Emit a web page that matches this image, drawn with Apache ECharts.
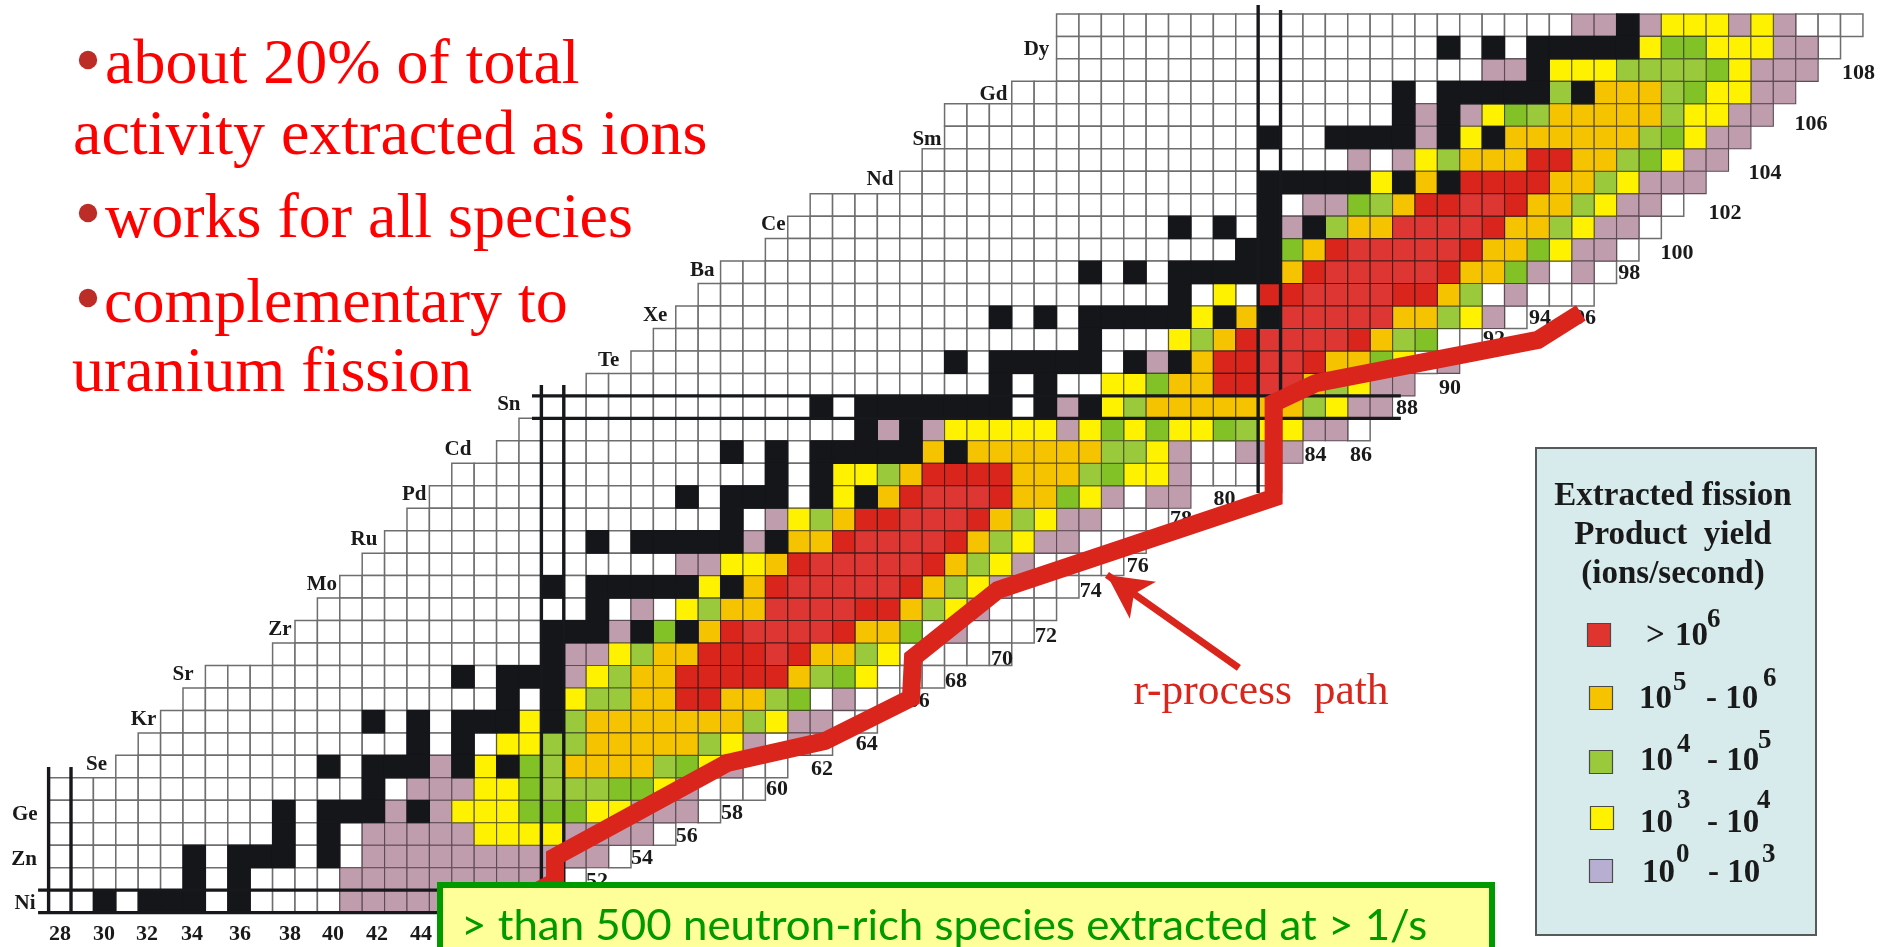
<!DOCTYPE html>
<html><head><meta charset="utf-8">
<style>html,body{margin:0;padding:0;background:#fff}#c{width:1886px;height:947px}</style>
<script src="https://cdn.jsdelivr.net/npm/echarts@6/dist/echarts.min.js"></script>
</head><body><div id="c"></div>
<script>
// ---- data: proton number, first neutron number, and runs "<code><last N of run>" ----
const rowZ = [67,66,65,64,63,62,61,60,59,58,57,56,55,54,53,52,51,50,49,48,47,46,45,44,43,42,41,40,39,38,37,36,35,34,33,32,31,30,29,28];
const rowStartN = [73,73,73,71,68,68,67,66,62,61,60,58,57,56,55,54,52,50,49,48,46,45,44,43,42,41,40,39,38,35,34,33,32,31,28,28,28,28,28,28];
const rowRuns = [
 "w95 p97 k98 p99 y102 p103 y104 p105 w108",
 "w89 k90 w91 k92 w93 k98 y99 G101 y104 p106 w107",
 "w91 p93 k94 y97 g101 G102 y103 p106",
 "w87 k88 w89 k94 g95 k96 o99 g100 G101 y103 p105",
 "w87 k88 p89 k90 p91 y92 G93 g94 o99 g100 y102 p104",
 "w81 k82 w84 k88 p89 k90 y91 k92 o98 g99 G100 y101 p103",
 "w85 p86 w87 p88 y89 g90 o93 r95 o97 g98 G99 y100 p102",
 "w81 k86 y87 k88 o89 k90 r94 o96 g97 y98 p101",
 "w81 k82 w83 p85 G86 g87 o88 r90 R92 r93 o95 g96 y97 p99 w100",
 "w77 k78 w79 k80 w81 k82 p83 k84 g85 o87 R91 r92 o94 g95 y96 p98 w99",
 "w80 k82 G83 o84 r85 R90 r91 o93 G94 y95 p97 w98",
 "w73 k74 w75 k76 w77 k82 o83 r84 R89 r90 o92 G93 p94 w95 p96 w97",
 "w77 k78 w79 y80 w81 r83 R87 r89 o90 g91 w92 p93 w96",
 "w69 k70 w71 k72 w73 k78 y79 k80 o81 k82 R87 o89 g90 y91 p92 w93",
 "w73 k74 w77 y78 g79 o80 r81 R85 r86 o87 g88 G89 w91",
 "w67 k68 w69 k74 w75 k76 p77 k78 o79 r81 R83 r84 o86 G87 y88 w89 p90",
 "w69 k70 w71 k72 w74 y76 G77 o79 r81 R83 o84 g85 y86 p88",
 "w61 k62 w63 k70 w71 k72 p73 k74 y75 g76 o83 g84 y85 p87",
 "w63 k64 p65 k66 p67 y72 p73 y74 G75 y76 G77 y79 G80 g81 y83 p85 w86",
 "w57 k58 w59 k60 w61 k66 o67 k68 o74 g76 y77 p78 w80 p83",
 "w59 k60 w61 k62 y64 g65 o66 r70 o73 g74 G75 y77 p78 w82",
 "w55 k56 w57 k60 w61 k62 y63 k64 o65 r66 R69 r70 o72 G73 y74 p75 w76 p78",
 "w57 k58 w59 p60 y61 g62 o63 r65 R68 r69 o70 g71 y72 p74 w77",
 "w51 k52 w53 k58 p59 k60 o62 r63 R67 r68 o69 g70 y71 p73 w76",
 "w55 p57 y59 o60 r61 R66 r67 o68 g69 y70 p71 w75",
 "w49 k50 w51 k56 y57 k58 o59 r60 R65 r66 o67 g68 y69 p70 w73",
 "w51 k52 w53 p54 w55 y56 g57 o59 R63 r65 o66 g67 y68 p69 w72",
 "w49 k52 p53 k54 G55 k56 o57 r58 R62 r63 o65 G66 w67 p68 w71",
 "w49 k50 p52 y53 g54 o56 r59 R60 r61 o63 g64 y65 w70",
 "w45 k46 w47 k50 p51 y52 g53 o55 r60 o61 g62 G63 y64 w67",
 "w47 k48 w49 k50 y51 g53 o55 r57 o59 g60 G61 w62 p63 w65",
 "w41 k42 w43 k44 w45 k48 y49 k50 g51 o58 g59 y60 p62 w64",
 "w43 k44 w45 k46 w47 y49 g51 o56 g57 y58 p59 w60 p61 w62",
 "w39 k40 w41 k44 p45 k46 y47 k48 G49 g50 o54 g55 G56 y57 p58 w60",
 "w41 k42 w43 p46 y48 G49 g52 G54 y55 p56 w59",
 "w37 k38 w39 k42 p43 k44 p45 y48 G51 y53 p56 w57",
 "w37 k38 w39 k40 w41 p46 y50 p54 w55",
 "w33 k34 w35 k38 w39 k40 w41 p52 w53",
 "w33 k34 w35 k36 w40 p50 w51",
 "w29 k30 w31 k34 w35 k36 w40 p49"
];
const rProcessPath = [[95.91,54.19],[93.99,52.99],[84.08,51.07],[82.19,50.18],[82.19,45.96],[69.88,41.86],[66.09,38.84],[66.0,37.05],[62.16,35.14],[57.79,34.16],[50.11,29.98],[50.11,28.87],[48.99,28.29]];
const neutronTicks = ['28','30','32','34','36','38','40','42','44','52','54','56','58','60','62','64','66','68','70','72','74','76','78','80','84','86','88','90','92','94','96','98','100','102','104','106','108'];
const neutronTickN = [28.01,29.97,31.89,33.9,36.04,38.28,40.2,42.16,44.12,51.98,53.99,55.99,58.01,60.02,62.03,64.03,66.35,68.01,70.06,72.03,74.03,76.13,78.05,80,84.06,86.09,88.14,90.06,92.03,94.08,96.09,98.07,100.2,102.34,104.13,106.18,108.3];
const neutronTickZ = [26.6,26.6,26.6,26.6,26.6,26.6,26.6,26.6,26.6,28.96,29.98,30.96,31.98,33.05,33.94,35.05,36.97,37.86,38.83,39.86,41.86,42.97,45.07,45.96,47.91,47.91,50,50.9,53.08,54.01,54.01,56.01,56.9,58.68,60.46,62.64,64.91];
const elements = ['Dy','Gd','Sm','Nd','Ce','Ba','Xe','Te','Sn','Cd','Pd','Ru','Mo','Zr','Sr','Kr','Se','Ge','Zn','Ni'];
const elementZ = [66,64,62,60.2,58.2,56.15,54.15,52.15,50.18,48.18,46.18,44.18,42.18,40.18,38.18,36.18,34.18,31.95,29.95,28];
const elementEndN = [72.2,70.33,67.39,65.24,60.42,57.25,55.15,53,48.59,46.4,44.39,42.2,40.4,38.37,33.99,32.33,30.13,27.03,27,26.94];
const shellLines = [
 [[27.5,33.98],[27.5,27.44]],[[28.5,33.98],[28.5,27.44]],
 [[49.5,50.98],[49.5,28.74]],[[50.5,50.98],[50.5,28.74]],
 [[27.03,27.5],[46,27.5]],[[27.03,28.5],[46,28.5]],
 [[49.08,49.5],[87.87,49.5]],[[49.08,50.5],[87.87,50.5]],
 [[81.5,67.9],[81.5,46.18]],[[82.5,67.68],[82.5,46.18]]
];
const arrowTail = [80.64,38.39], arrowTip = [74.75,42.53];
const notes = ['about 20% of total','activity extracted as ions','works for all species','complementary to','uranium fission'];
const legendTitle = ['Extracted fission','Product  yield','(ions/second)'];
const pathLabel = 'r-process  path';
const footer = '> than 500 neutron-rich species extracted at > 1/s';

// ---- styles ----
const CELL = {
 w:{fill:'#ffffff',stroke:'#6e6e6e',lw:1.5},
 p:{fill:'#bf9dac',stroke:'#5d4c55',lw:1.1},
 y:{fill:'#fff200',stroke:'#5f5a20',lw:1.1},
 G:{fill:'#82c226',stroke:'#41551f',lw:1.1},
 g:{fill:'#9aca3c',stroke:'#4c5a28',lw:1.1},
 o:{fill:'#f6c300',stroke:'#5f5020',lw:1.1},
 r:{fill:'#da251d',stroke:'#4a1c1a',lw:1.1},
 R:{fill:'#dd3633',stroke:'#4a1c1a',lw:1.1},
 k:{fill:'#15161a',stroke:'#15161a',lw:1.2}
};
const cells = {}; Object.keys(CELL).forEach(k=>cells[k]=[]);
rowZ.forEach((z,i)=>{
  let n = rowStartN[i];
  rowRuns[i].split(' ').forEach(tok=>{
    const code = tok[0], last = +tok.slice(1);
    for(; n<=last; n++) cells[code].push([n,z]);
  });
});
const cellSeries = Object.keys(CELL).map((code,i)=>({
  type:'custom', name:code, data:cells[code], z:2+i*0.01, silent:true, clip:false, animation:false,
  encode:{x:0,y:1},
  renderItem:(p,api)=>{
    const c=api.coord([api.value(0),api.value(1)]), s=api.size([1,1]), st=CELL[code];
    return {type:'rect',shape:{x:c[0]-s[0]/2,y:c[1]-s[1]/2,width:s[0],height:s[1]},
            style:{fill:st.fill,stroke:st.stroke,lineWidth:st.lw}};
  }
}));
const shellSeries = shellLines.map(l=>({
  type:'line',data:l,symbol:'none',z:3,silent:true,animation:false,clip:false,
  lineStyle:{color:'#17181b',width:3.4,cap:'butt'}
}));
const SERIF='"Liberation Serif","Times New Roman",serif';
const tickSeries = {
  type:'scatter',z:4,silent:true,animation:false,clip:false,symbolSize:1,itemStyle:{opacity:0},
  data:neutronTicks.map((t,i)=>({name:t,value:[neutronTickN[i],neutronTickZ[i]]})),
  label:{show:true,position:'inside',offset:[0,1],formatter:'{b}',fontFamily:SERIF,fontWeight:'bold',fontSize:22,color:'#1a1a1a',opacity:1}
};
const elementSeries = {
  type:'scatter',z:4,silent:true,animation:false,clip:false,symbolSize:1,itemStyle:{opacity:0},
  data:elements.map((t,i)=>({name:t,value:[elementEndN[i],elementZ[i]]})),
  label:{show:true,position:'left',distance:0,offset:[0,2],formatter:'{b}',fontFamily:SERIF,fontWeight:'bold',fontSize:21,color:'#1a1a1a',opacity:1}
};
const pathSeries = {
  type:'line',data:rProcessPath,symbol:'none',z:5,silent:true,animation:false,clip:false,
  lineStyle:{color:'#da251d',width:18,join:'miter',cap:'butt',miterLimit:10},
  markLine:{silent:true,animation:false,symbol:['none','arrow'],symbolSize:[34,44],label:{show:false},
    lineStyle:{color:'#da251d',width:7,type:'solid'},
    data:[[{coord:arrowTail},{coord:arrowTip}]]}
};

// ---- page furniture ----
function txt(x,base,text,o){
  const fs=o.size;
  return {type:'text',z:100,silent:true,x:x,y:base-fs*0.27,scaleX:o.sx||1,
    style:{text:text,fontFamily:o.family||SERIF,fontSize:fs,fontWeight:o.weight||'normal',fill:o.fill||'#1a1a1a',
      align:o.align||'left',verticalAlign:'middle'}};
}
const noteBase=[83,154,237,322,391], noteX=[105,73,105,104,72];
const g=[];
notes.forEach((t,i)=>g.push(txt(noteX[i],noteBase[i],t,{size:64,fill:'#ff0000'})));
[[88,60],[88,213],[88,298]].forEach(p=>g.push({type:'circle',z:100,silent:true,shape:{cx:p[0],cy:p[1],r:9.2},style:{fill:'#bd2d27'}}));
g.push(txt(1261,704,pathLabel,{size:43.5,fill:'#da251d',align:'center'}));
// footer box
g.push({type:'rect',z:100,silent:true,shape:{x:440,y:885,width:1052,height:100},style:{fill:'#ffff99',stroke:'#009a00',lineWidth:6}});
g.push(txt(461,938,footer,{size:43,sx:1.02,family:'Lato',fill:'#009900'}));
// legend panel
g.push({type:'rect',z:100,silent:true,shape:{x:1536,y:448,width:280,height:487},style:{fill:'#d8ebec',stroke:'#555b5d',lineWidth:2}});
legendTitle.forEach((t,i)=>g.push(txt(1673,[505,544,583][i],t,{size:33,weight:'bold',align:'center'})));
[[1599,635,'#e0352f'],[1601,698,'#f6c300'],[1601,762,'#9aca3c'],[1602,818,'#fff200'],[1601,871,'#b7aed2']].forEach(s=>
  g.push({type:'rect',z:100,silent:true,shape:{x:s[0]-11.5,y:s[1]-11.5,width:23,height:23},style:{fill:s[2],stroke:'#4a4a4a',lineWidth:1.2}}));
[
 [1646,645,'>',33],[1675,645,'10',33],[1707,627,'6',27],
 [1639,708,'10',33],[1673,690,'5',27],[1706,708,'- 10',33],[1763,686,'6',27],
 [1640,770,'10',33],[1677,752,'4',27],[1707,770,'- 10',33],[1758,748,'5',27],
 [1640,832,'10',33],[1677,808,'3',27],[1707,832,'- 10',33],[1757,808,'4',27],
 [1642,882,'10',33],[1676,862,'0',27],[1708,882,'- 10',33],[1762,862,'3',27]
].forEach(p=>g.push(txt(p[0],p[1],p[2],{size:p[3],weight:'bold'})));

const chart = echarts.init(document.getElementById('c'),null,{renderer:'canvas'});
chart.setOption({
  backgroundColor:'#ffffff',animation:false,
  grid:{left:0,right:0,top:0,bottom:0,containLabel:false},
  xAxis:{type:'value',min:25.33,max:109.53,show:false,splitLine:{show:false}},
  yAxis:{type:'value',min:25.97,max:68.12,show:false,splitLine:{show:false}},
  series:[...cellSeries,...shellSeries,tickSeries,elementSeries,pathSeries],
  graphic:{elements:g}
});
</script></body></html>
